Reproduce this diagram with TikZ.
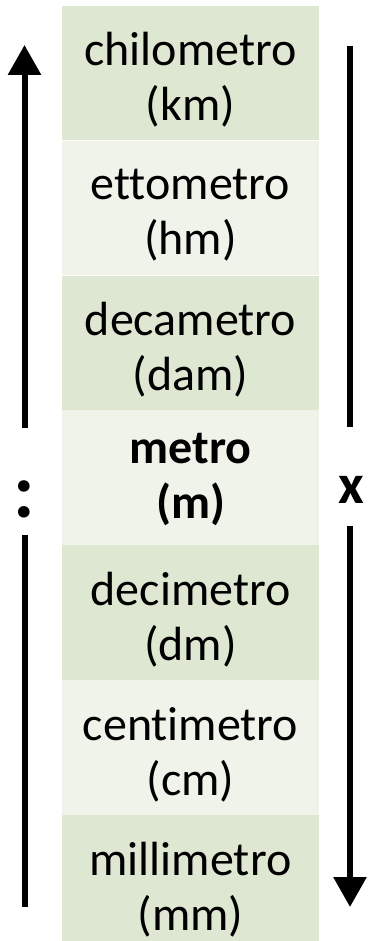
\documentclass[tikz,border=0pt]{standalone}
\usepackage{fontspec}
\setmainfont{Carlito}[Ligatures=NoCommon]
\usetikzlibrary{arrows.meta,positioning}

\definecolor{rowdark}{RGB}{222,231,210}
\definecolor{rowlight}{RGB}{239,243,233}

\tikzset{
  unitrow/.style={minimum width=257pt, minimum height=134.5pt, inner sep=0pt},
  unitname/.style={align=center, inner sep=0pt, yshift=-7pt,
    font=\fontsize{48}{55}\selectfont},
  bar/.style={line width=6pt},
  tip/.style={-{Triangle[length=30pt,width=32pt]}}
}

\begin{document}
\begin{tikzpicture}[x=1pt, y=-1pt]
    \useasboundingbox (0, 0) rectangle (368, 941);
    \begin{scope}
      \clip (0, 0) rectangle (368, 941);

      % the seven units, largest on top
      \node [unitrow, fill=rowdark, anchor=north,
        label={[unitname]center:chilometro\\(km)}] (km) at (190.5, 5.5) {};
      \node [unitrow, fill=rowlight, below=0pt of km,
        label={[unitname]center:ettometro\\(hm)}] (hm) {};
      \node [unitrow, fill=rowdark, below=0pt of hm,
        label={[unitname]center:decametro\\(dam)}] (dam) {};
      \node [unitrow, fill=rowlight, below=0pt of dam,
        label={[unitname, yshift=5pt, font=\fontsize{48}{55}\selectfont\bfseries]center:metro\\(m)}] (m) {};
      \node [unitrow, fill=rowdark, below=0pt of m,
        label={[unitname]center:decimetro\\(dm)}] (dm) {};
      \node [unitrow, fill=rowlight, below=0pt of dm,
        label={[unitname]center:centimetro\\(cm)}] (cm) {};
      \node [unitrow, fill=rowdark, below=0pt of cm,
        label={[unitname]center:millimetro\\(mm)}] (mm) {};
    \end{scope}

    % divide going up, multiply going down
    \node [anchor=base, inner sep=0pt, text height=89pt, text depth=18pt,
      font=\fontsize{78}{80}\selectfont\bfseries] (div) at (24.5, 517) {:};
    \node [anchor=base, inner sep=0pt, text height=76pt, text depth=23pt,
      font=\fontsize{56}{60}\selectfont\bfseries] (mul) at (351.5, 503) {x};

    \coordinate (up) at (24.5, 45);
    \coordinate (lowend) at (24.5, 907);
    \coordinate (topend) at (350, 46);
    \coordinate (down) at (350, 907);

    \draw [bar, tip] (div.north) -- (up);
    \draw [bar] (div.south) -- (lowend);
    \draw [bar] (topend) -- (mul.north -| topend);
    \draw [bar, tip] (mul.south -| down) -- (down);
\end{tikzpicture}
\end{document}
